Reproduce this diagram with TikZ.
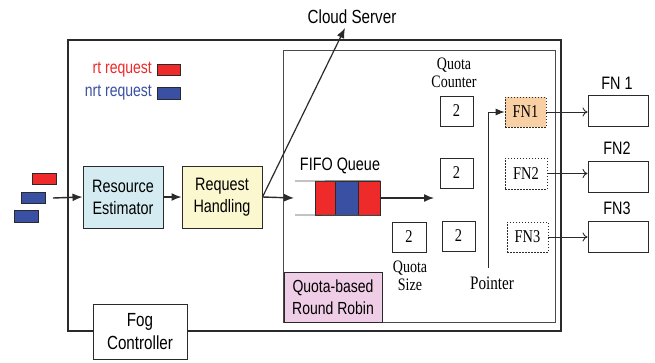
\documentclass[tikz,border=0pt]{standalone}
\usepackage{fontspec}
\setmainfont[FakeStretch=0.8]{Liberation Serif}
\setsansfont[FakeStretch=0.8]{Liberation Sans}
\usetikzlibrary{arrows.meta}
\definecolor{linec}{HTML}{2A2A2A}
\definecolor{rq}{HTML}{EE2A2A}
\definecolor{nq}{HTML}{3A51A3}
\definecolor{cyanf}{HTML}{D4ECF1}
\definecolor{yelf}{HTML}{FBF8CF}
\definecolor{orf}{HTML}{F9D0A3}
\definecolor{pinkf}{HTML}{F0CDE6}
\begin{document}
\begin{tikzpicture}[x=1pt,y=-1pt,
  sbox/.style={draw=linec, line width=1pt, inner sep=0pt, align=center,
    font=\sffamily\fontsize{18}{22}\selectfont},
  numbox/.style={draw=linec, line width=1pt, inner sep=0pt,
    minimum width=33pt, minimum height=30pt, font=\fontsize{18}{20}\selectfont},
  fnd/.style={draw=linec, line width=0.8pt, dash pattern=on 1.5pt off 1.5pt, inner sep=0pt,
    minimum width=41pt, minimum height=30pt, font=\fontsize{18}{20}\selectfont},
  fnbox/.style={draw=linec, line width=1pt, minimum width=60pt, minimum height=31pt, inner sep=0pt},
  req/.style={draw=linec, line width=0.6pt, inner sep=0pt},
  cell/.style={draw=linec, line width=0.6pt, inner sep=0pt, minimum height=34pt},
  stxt/.style={font=\sffamily\fontsize{18}{22}\selectfont, align=center, inner sep=0pt},
  rtxt/.style={font=\fontsize{18}{18}\selectfont, align=center, inner sep=0pt},
  arr/.style={-{Latex[length=10pt,width=8pt]}, line width=1.4pt, draw=linec},
  tarr/.style={-{To[length=5pt,width=9pt]}, line width=0.9pt, draw=linec},
  parr/.style={-{Latex[length=9pt,width=7pt]}, line width=0.9pt, draw=linec}]
\useasboundingbox (0,0) rectangle (655,362);
\fill[white] (0,0) rectangle (655,362);

% frames
\draw[line width=1.6pt, draw=linec] (68,40) rectangle (561,331);
\draw[line width=1pt, draw=linec!85] (283,50) rectangle (555,322);

% legend
\node[anchor=east, text=rq, font=\sffamily\fontsize{17.5}{20}\selectfont, inner sep=0pt] (rtl) at (152,70) {rt request};
\node[req, fill=rq, minimum width=23pt, minimum height=11pt] (rtb) at (168.5,69.5) {};
\node[anchor=east, text=nq, font=\sffamily\fontsize{17.5}{20}\selectfont, inner sep=0pt] (nrtl) at (152,93) {nrt request};
\node[req, fill=nq, minimum width=23pt, minimum height=12pt] (nrtb) at (168.5,93) {};

% incoming requests
\node[req, fill=rq, minimum width=24pt, minimum height=11pt] (in1) at (44,178.5) {};
\node[req, fill=nq, minimum width=24pt, minimum height=11pt] (in2) at (33,197.5) {};
\node[req, fill=nq, minimum width=24pt, minimum height=12pt] (in3) at (26,216) {};
\coordinate (src) at (53,198);

% main blocks
\node[sbox, fill=cyanf, minimum width=80pt, minimum height=62pt] (re) at (123,197) {Resource\\Estimator};
\node[sbox, fill=yelf, minimum width=80pt, minimum height=62pt] (rh) at (222,197) {Request\\Handling};

\draw[arr] (src) -- (re.west);
\draw[arr] (re.east) -- (rh.west);

% cloud server
\node[stxt, font=\sffamily\fontsize{19}{22}\selectfont] (cloud) at (352,17) {Cloud Server};
\coordinate (cs) at (345,28);
\draw[arr, line width=1.2pt] (rh.east) -- (cs);

% FIFO queue
\node[stxt] (fifo) at (340,166) {FIFO Queue};
\node[cell, fill=rq, minimum width=20pt] (qa) at (325,198) {};
\node[cell, fill=nq, minimum width=23pt] (qb) at (346.5,198) {};
\node[cell, fill=rq, minimum width=22pt] (qc) at (369,198) {};
\coordinate (qtl) at (295,181);
\coordinate (qbl) at (295,215);
\draw[line width=0.8pt, draw=linec!80] (qtl) -- (qc.north east);
\draw[line width=0.8pt, draw=linec!80] (qbl) -- (qc.south east);
\coordinate (qin) at (294,198);
\coordinate (qout) at (434,198);
\draw[arr] (rh.east) -- (qin);
\draw[arr] (qc.east) -- (qout);

% quota counters
\node[rtxt, font=\fontsize{17.5}{18}\selectfont] (qct) at (454,73) {Quota\\Counter};
\node[numbox] (c1) at (456.5,111) {2};
\node[numbox] (c2) at (456.5,173) {2};
\node[numbox] (c3) at (458.5,236) {2};
\node[numbox, minimum width=34pt] (qs) at (409,237) {2};
\node[rtxt, font=\fontsize{17.5}{18}\selectfont] (qst) at (410,276) {Quota\\Size};

% fog node slots
\node[fnd, fill=orf] (d1) at (525.5,112) {FN1};
\node[fnd, minimum width=42pt, minimum height=31pt] (d2) at (526,173.5) {FN2};
\node[fnd] (d3) at (527.5,237) {FN3};

% pointer
\node[rtxt, font=\fontsize{19}{20}\selectfont] (ptxt) at (492,283) {Pointer};
\coordinate (ptr) at (488,268);
\draw[parr] (ptr) |- (d1.west);

% fog nodes
\node[fnbox] (f1) at (618,110.5) {};
\node[fnbox] (f2) at (618,176.5) {};
\node[fnbox] (f3) at (618,236.5) {};
\node[stxt] (f1l) at (617,83) {FN 1};
\node[stxt] (f2l) at (617,148) {FN2};
\node[stxt] (f3l) at (617,208) {FN3};
\draw[tarr] (d1.east) -- (d1.east -| f1.west);
\draw[tarr] (d2.east) -- (d2.east -| f2.west);
\draw[tarr] (d3.east) -- (d3.east -| f3.west);

% round robin
\node[sbox, fill=pinkf, minimum width=98pt, minimum height=50pt, font=\sffamily\fontsize{17.5}{22}\selectfont] (qrr) at (333,297) {Quota-based\\Round Robin};

% fog controller
\node[sbox, fill=white, minimum width=94pt, minimum height=55pt, font=\sffamily\fontsize{19}{23}\selectfont] (fc) at (140,331.5) {Fog\\Controller};
\end{tikzpicture}
\end{document}
